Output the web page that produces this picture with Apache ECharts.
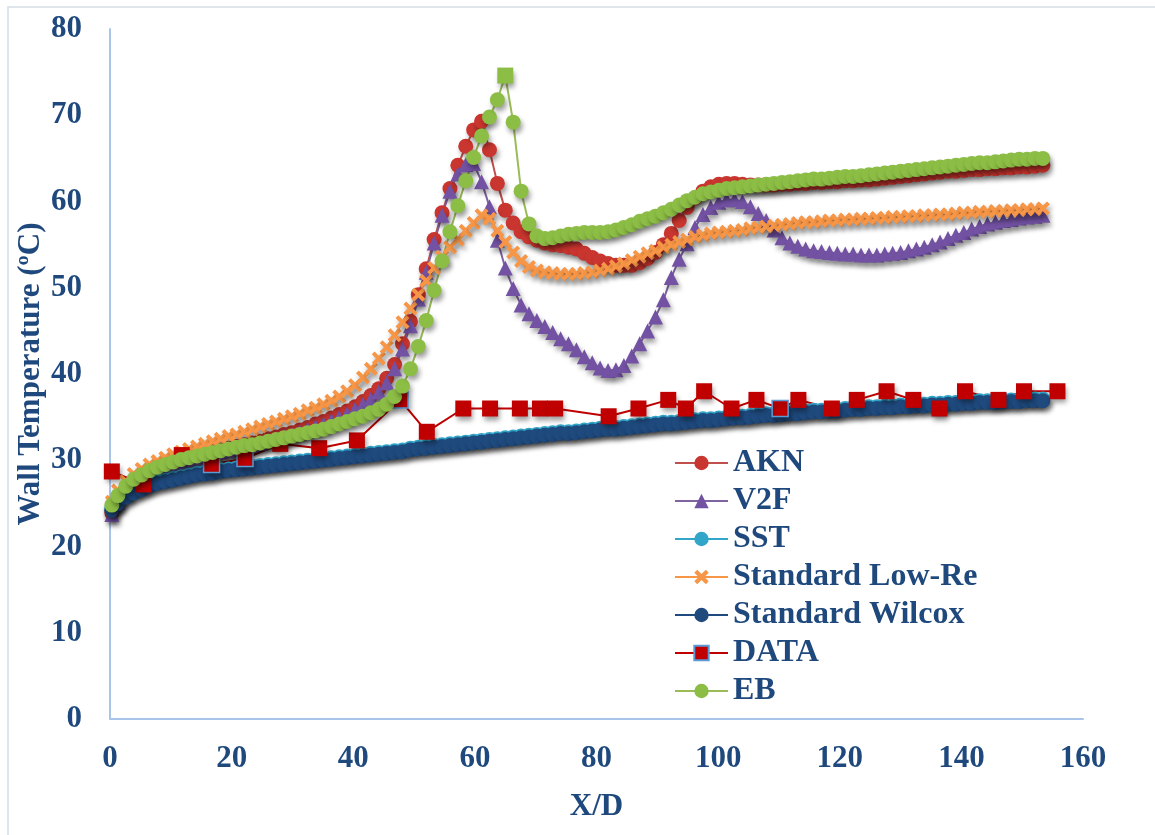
<!DOCTYPE html>
<html><head><meta charset="utf-8">
<script src="https://cdn.jsdelivr.net/npm/echarts@6/dist/echarts.min.js"></script>
<style>html,body{margin:0;padding:0;background:#fff}#c{width:1155px;height:835px}</style>
</head><body><div id="c"></div>
<script>
// ---------- DATA ----------
const seriesNames = ['AKN','V2F','SST','Standard Low-Re','Standard Wilcox','DATA','EB'];
const xTicks = [0,20,40,60,80,100,120,140,160];
const yTicks = [0,10,20,30,40,50,60,70,80];

const xGrid = [0.3,1.3,2.6,3.9,5.2,6.5,7.8,9.1,10.4,11.7,
13.0,14.3,15.6,16.9,18.2,19.5,20.8,22.1,23.4,24.7,
26.0,27.3,28.6,29.9,31.2,32.5,33.8,35.1,36.4,37.7,
39.0,40.3,41.6,42.9,44.2,45.5,46.8,48.1,49.4,50.7,
52.0,53.3,54.6,55.9,57.2,58.5,59.8,61.1,62.4,63.7,
65.0,66.3,67.6,68.9,70.2,71.5,72.8,74.1,75.4,76.7,
78.0,79.3,80.6,81.9,83.2,84.5,85.8,87.1,88.4,89.7,
91.0,92.3,93.6,94.9,96.2,97.5,98.8,100.1,101.4,102.7,
104.0,105.3,106.6,107.9,109.2,110.5,111.8,113.1,114.4,115.7,
117.0,118.3,119.6,120.9,122.2,123.5,124.8,126.1,127.4,128.7,
130.0,131.3,132.6,133.9,135.2,136.5,137.8,139.1,140.4,141.7,
143.0,144.3,145.6,146.9,148.2,149.5,150.8,152.1,153.4];

const aknY = [23.9,25.3,26.6,27.5,28.1,28.6,29.0,29.4,29.7,30.0,
30.3,30.5,30.8,31.0,31.2,31.4,31.6,31.8,32.0,32.2,
32.5,32.7,33.0,33.2,33.5,33.8,34.2,34.5,34.9,35.3,
35.7,36.2,36.8,37.5,38.3,39.5,41.1,43.5,46.1,49.2,
52.2,55.6,58.7,61.5,64.2,66.4,68.3,69.3,66.0,62.1,
59.0,57.5,56.5,55.9,55.5,55.2,55.0,54.9,54.7,54.5,
54.0,53.5,53.1,52.8,52.6,52.6,52.6,52.9,53.4,54.1,
55.0,56.3,57.8,59.3,60.4,61.2,61.7,62.0,62.1,62.1,
62.0,61.9,61.9,61.9,61.9,62.0,62.0,62.1,62.1,62.2,
62.2,62.3,62.3,62.4,62.4,62.5,62.5,62.6,62.7,62.8,
62.9,63.0,63.1,63.2,63.3,63.4,63.5,63.5,63.6,63.7,
63.7,63.8,63.8,63.9,63.9,64.0,64.0,64.1,64.2];

const v2fY = [23.7,25.1,26.4,27.3,27.9,28.4,28.8,29.2,29.5,29.8,
30.1,30.3,30.6,30.8,31.0,31.2,31.4,31.6,31.8,32.0,
32.3,32.5,32.8,33.0,33.3,33.6,33.9,34.2,34.6,35.0,
35.4,35.9,36.5,37.1,37.9,39.0,40.6,42.9,45.6,48.7,
51.8,55.2,58.4,61.2,63.2,64.3,64.4,62.3,59.4,55.5,
52.3,49.9,48.0,47.0,46.2,45.5,44.8,44.1,43.5,42.8,
42.0,41.3,40.7,40.4,40.5,41.0,42.1,43.5,45.0,46.6,
48.6,51.2,53.3,55.1,57.0,58.5,59.3,59.9,60.2,60.2,
60.0,59.4,58.6,57.8,56.7,55.8,55.2,54.8,54.5,54.3,
54.2,54.1,54.0,53.9,53.9,53.8,53.8,53.8,53.9,54.0,
54.1,54.3,54.5,54.7,55.0,55.3,55.7,56.1,56.4,56.8,
57.1,57.4,57.6,57.8,57.9,58.1,58.2,58.3,58.4];

const sstY = [24.4,25.2,25.9,26.4,26.8,27.2,27.5,27.7,27.9,28.1,
28.3,28.5,28.6,28.7,28.9,29.0,29.1,29.2,29.3,29.4,
29.5,29.6,29.7,29.8,29.9,30.0,30.1,30.2,30.3,30.4,
30.5,30.6,30.7,30.8,30.9,31.0,31.1,31.2,31.4,31.5,
31.6,31.7,31.8,31.9,32.0,32.1,32.2,32.3,32.4,32.5,
32.6,32.7,32.8,32.9,33.0,33.1,33.2,33.3,33.3,33.4,
33.5,33.6,33.7,33.8,33.8,33.9,34.0,34.1,34.2,34.3,
34.4,34.4,34.5,34.6,34.7,34.8,34.8,34.9,35.0,35.1,
35.1,35.2,35.3,35.4,35.4,35.5,35.6,35.6,35.7,35.8,
35.8,35.9,35.9,36.0,36.1,36.1,36.2,36.2,36.3,36.3,
36.4,36.4,36.5,36.5,36.6,36.6,36.7,36.7,36.8,36.8,
36.9,36.9,36.9,37.0,37.0,37.0,37.1,37.1,37.1];

const lowReY = [25.2,26.5,27.6,28.4,29.0,29.5,29.9,30.3,30.7,31.0,
31.3,31.6,31.9,32.2,32.5,32.8,33.0,33.3,33.6,33.9,
34.2,34.5,34.8,35.1,35.4,35.8,36.1,36.5,36.9,37.4,
38.0,38.7,39.6,40.6,41.8,43.1,44.5,46.0,47.6,49.2,
50.8,52.3,53.6,54.7,55.6,56.6,57.5,58.4,58.0,56.6,
55.3,54.1,53.1,52.4,52.0,51.8,51.7,51.6,51.6,51.6,
51.7,51.8,52.0,52.2,52.5,52.8,53.2,53.6,54.0,54.3,
54.7,55.0,55.3,55.6,55.9,56.1,56.3,56.4,56.5,56.6,
56.7,56.9,57.0,57.1,57.2,57.3,57.4,57.5,57.6,57.6,
57.7,57.8,57.8,57.9,57.9,58.0,58.0,58.1,58.1,58.2,
58.2,58.3,58.3,58.4,58.4,58.5,58.5,58.6,58.7,58.7,
58.8,58.8,58.9,58.9,59.0,59.0,59.1,59.1,59.2];

const wilcoxY = [24.2,25.0,25.7,26.2,26.6,27.0,27.3,27.5,27.7,27.9,
28.1,28.3,28.4,28.5,28.7,28.8,28.9,29.0,29.1,29.2,
29.3,29.4,29.5,29.6,29.7,29.8,29.9,30.0,30.1,30.2,
30.3,30.4,30.5,30.6,30.7,30.8,30.9,31.0,31.2,31.3,
31.4,31.5,31.6,31.7,31.8,31.9,32.0,32.1,32.2,32.3,
32.4,32.5,32.6,32.7,32.8,32.9,33.0,33.1,33.1,33.2,
33.3,33.4,33.5,33.6,33.6,33.7,33.8,33.9,34.0,34.1,
34.2,34.2,34.3,34.4,34.5,34.6,34.6,34.7,34.8,34.9,
34.9,35.0,35.1,35.2,35.2,35.3,35.4,35.4,35.5,35.6,
35.6,35.7,35.7,35.8,35.9,35.9,36.0,36.0,36.1,36.1,
36.2,36.2,36.3,36.3,36.4,36.4,36.5,36.5,36.6,36.6,
36.7,36.7,36.7,36.8,36.8,36.8,36.9,36.9,36.9];

const ebY = [24.8,25.9,27.0,27.8,28.3,28.8,29.2,29.5,29.8,30.1,
30.3,30.5,30.7,30.9,31.1,31.3,31.5,31.7,31.8,32.0,
32.2,32.4,32.6,32.8,33.0,33.2,33.4,33.6,33.9,34.2,
34.5,34.8,35.1,35.5,35.9,36.5,37.4,38.6,40.6,43.2,
46.2,49.7,53.1,56.5,59.5,62.4,65.1,67.6,69.8,71.8,
74.6,69.2,61.2,57.4,56.0,55.7,55.8,56.0,56.2,56.3,
56.4,56.4,56.4,56.5,56.7,57.0,57.3,57.7,58.0,58.3,
58.7,59.1,59.6,60.1,60.5,60.9,61.1,61.3,61.5,61.6,
61.7,61.8,61.9,62.0,62.1,62.2,62.3,62.4,62.5,62.6,
62.6,62.7,62.8,62.9,62.9,63.0,63.1,63.2,63.3,63.4,
63.5,63.6,63.7,63.8,63.9,64.0,64.1,64.2,64.3,64.4,
64.5,64.5,64.6,64.7,64.8,64.9,64.9,65.0,65.0];
const ebPeakIndex = 50;

const dataX = [0.3,5.5,11.8,16.7,22.2,28.0,34.4,40.6,47.7,52.1,58.1,62.5,67.4,70.7,73.2,82.0,86.9,91.8,94.7,97.7,102.2,106.3,110.2,113.2,118.7,122.8,127.7,132.1,136.4,140.6,146.1,150.3,155.8];
const dataY = [28.7,27.2,30.6,29.5,30.2,31.9,31.4,32.3,37.0,33.3,36.0,36.0,36.0,36.0,36.0,35.1,36.0,37.0,36.0,38.0,36.0,37.0,36.0,37.0,36.0,37.0,38.0,37.0,36.0,38.0,37.0,38.0,38.0];
const dataOutlinedIdx = [3,4,8,22];
const dataCircleX = [15.9,21.0];
const dataCircleY = [30.4,31.4];

// ---------- CHART ----------
const FONT = "'Liberation Serif','Times New Roman',serif";
const TXT = '#1F497D';
const shadow = {shadowBlur:5, shadowOffsetX:2, shadowOffsetY:4, shadowColor:'rgba(0,0,0,0.38)'};
const xSym = 'path://M2,0 L5,3 L8,0 L10,2 L7,5 L10,8 L8,10 L5,7 L2,10 L0,8 L3,5 L0,2 Z';

function pairs(xs, ys){ return xs.map((x,i)=>[x, ys[i]]); }

function mk(name, ys, color, symbol, size, lineColor){
  return {
    name, type:'line', data: pairs(xGrid, ys),
    symbol, symbolSize:size, showSymbol:true, showAllSymbol:true,
    lineStyle:{color: lineColor || color, width:2},
    itemStyle:Object.assign({color}, shadow),
    emphasis:{disabled:true}
  };
}

const ebData = pairs(xGrid, ebY).map((p,i)=> i===ebPeakIndex ? {value:p, symbol:'rect', symbolSize:16} : p);
const dataPts = pairs(dataX, dataY).map((p,i)=> dataOutlinedIdx.includes(i) ? p : {value:p, itemStyle:{borderWidth:0}});

const option = {
  animation:false,
  backgroundColor:'#fff',
  graphic:[{type:'rect', shape:{x:8,y:7,width:1170,height:850}, style:{fill:'none', stroke:'#D6DCE5', lineWidth:1.5}, silent:true}],
  grid:{left:110, right:72, top:29, bottom:116, containLabel:false},
  xAxis:{type:'value', min:0, max:160, interval:20,
    name:'X/D', nameLocation:'middle', nameGap:72, nameMoveOverlap:false,
    nameTextStyle:{fontFamily:FONT, fontWeight:'bold', fontSize:31, color:TXT},
    axisLine:{show:true, lineStyle:{color:'#A9C5EA', width:2}}, axisTick:{show:false}, splitLine:{show:false},
    axisLabel:{fontFamily:FONT, fontWeight:'bold', fontSize:31, color:TXT, margin:24,
      customValues:xTicks, formatter:v=>String(v)}},
  yAxis:{type:'value', min:0, max:80, interval:10,
    name:'Wall Temperature (ºC)', nameLocation:'middle', nameGap:64, nameRotate:90, nameMoveOverlap:false,
    nameTextStyle:{fontFamily:FONT, fontWeight:'bold', fontSize:31, color:TXT},
    axisLine:{show:true, lineStyle:{color:'#A9C5EA', width:2}}, axisTick:{show:false}, splitLine:{show:false},
    axisLabel:{fontFamily:FONT, fontWeight:'bold', fontSize:31, color:TXT, margin:28,
      customValues:yTicks, formatter:v=>String(v)}},
  legend:{data:seriesNames, orient:'vertical', left:674, top:447, padding:0, itemWidth:53, itemHeight:18, itemGap:6,
    selectedMode:false,
    textStyle:{fontFamily:FONT, fontWeight:'bold', fontSize:32, color:TXT, lineHeight:32}},
  series:[
    mk('AKN', aknY, '#C9352F', 'circle', 15, '#C0504D'),
    mk('V2F', v2fY, '#7352A4', 'triangle', 15, '#8064A2'),
    mk('SST', sstY, '#31A6C9', 'circle', 15),
    mk('Standard Low-Re', lowReY, '#F79646', xSym, 14),
    mk('Standard Wilcox', wilcoxY, '#1F4A7E', 'circle', 15),
    {name:'DATA', type:'line', data:dataPts, symbol:'rect', symbolSize:16, showAllSymbol:true,
      lineStyle:{color:'#C00000', width:2},
      itemStyle:Object.assign({color:'#C00000', borderColor:'#5B9BD5', borderWidth:1.5}, shadow),
      emphasis:{disabled:true}},
    Object.assign(mk('EB', ebY, '#8CBD45', 'circle', 15, '#9BBB59'), {data:ebData}),
    {name:'DATA_c', type:'scatter', data:pairs(dataCircleX, dataCircleY), symbol:'circle', symbolSize:17,
      itemStyle:Object.assign({color:'#C00000'}, shadow), emphasis:{disabled:true}}
  ]
};
const chart = echarts.init(document.getElementById('c'), null, {renderer:'canvas'});
chart.setOption(option);
</script></body></html>
